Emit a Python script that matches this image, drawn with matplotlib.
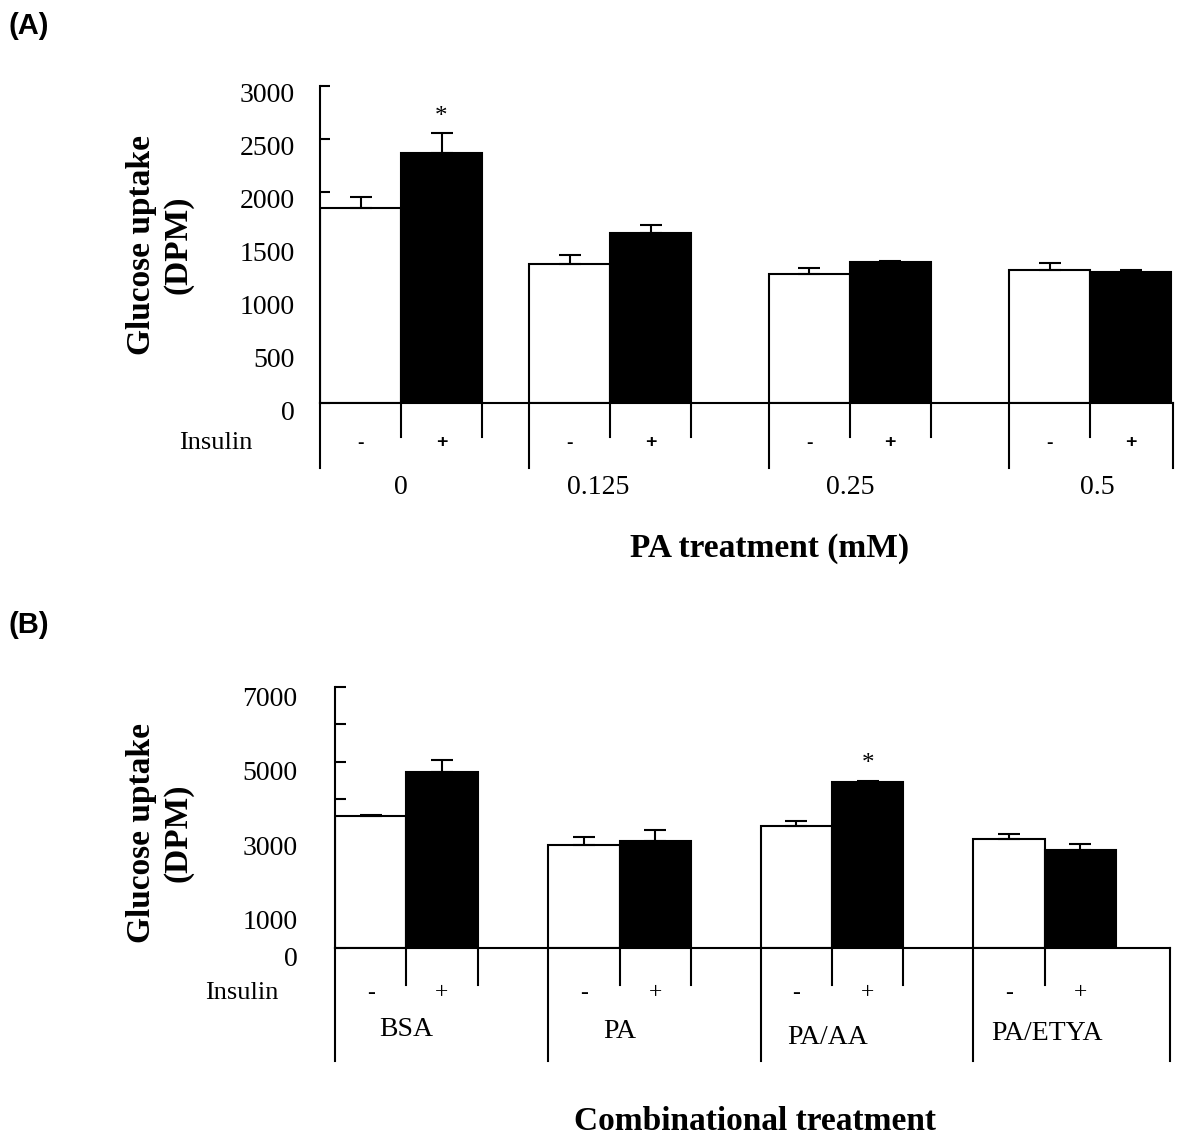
import matplotlib
matplotlib.use('Agg')
import matplotlib.pyplot as plt
import matplotlib.transforms as mtransforms

plt.rcParams['font.family'] = 'Liberation Serif'

# (A) glucose uptake vs PA dose, without / with insulin
pa_doses = ['0', '0.125', '0.25', '0.5']
a_no_ins = [1843, 1314, 1224, 1256]
a_no_ins_err = [110, 85, 50, 72]
a_ins = [2363, 1606, 1331, 1243]
a_ins_err = [190, 82, 16, 13]

# (B) combinational treatment
combos = ['BSA', 'PA', 'PA/AA', 'PA/ETYA']
b_no_ins = [3531, 2753, 3272, 2914]
b_no_ins_err = [45, 233, 134, 152]
b_ins = [4711, 2870, 4443, 2628]
b_ins_err = [331, 286, 45, 152]

W, H = 1200, 1142
fig = plt.figure(figsize=(12, 11.42), dpi=100)


def fy(py):
    # pixel row -> figure fraction
    return 1 - py / H


def px_axes(left, top, right, bottom):
    return fig.add_axes([left / W, 1 - bottom / H, (right - left) / W, (bottom - top) / H])


def draw_panel(ax, lefts, xright, no_ins, no_err, ins, ins_err, names, stars,
               y_long, y_short, y_pm, y_name, pm_style, name_dx, name_dy):
    lw = 1.5
    for i, x0 in enumerate(lefts):
        ax.bar(x0 + 0.5, no_ins[i], width=1, color='white', edgecolor='black', lw=lw, zorder=2)
        ax.bar(x0 + 1.5, ins[i], width=1, color='black', edgecolor='black', lw=lw, zorder=2)
        ax.errorbar([x0 + 0.5, x0 + 1.5], [no_ins[i], ins[i]],
                    yerr=[[0, 0], [no_err[i], ins_err[i]]], fmt='none', ecolor='black',
                    elinewidth=lw, capsize=8, capthick=lw, zorder=3)
    for i in stars:
        ax.annotate('*', (lefts[i] + 1.5, ins[i] + ins_err[i]), xytext=(0, 12),
                    textcoords='offset points', ha='center', va='center', fontsize=18)

    ax.set_xlim(0, xright)
    for s in ['top', 'right']:
        ax.spines[s].set_visible(False)
    for s in ['left', 'bottom']:
        ax.spines[s].set_linewidth(lw)
    ax.set_xticks([])

    # table below the zero line
    tr = mtransforms.blended_transform_factory(ax.transData, fig.transFigure)
    zero = ax.transData.transform((0, 0))[1] / fig.bbox.height
    for x in list(lefts) + [xright]:
        ax.plot([x, x], [zero, fy(y_long)], color='black', lw=lw, transform=tr, clip_on=False)
    for i, x0 in enumerate(lefts):
        shorts = [x0 + 1, x0 + 2] if i < len(lefts) - 1 else [x0 + 1]
        for x in shorts:
            ax.plot([x, x], [zero, fy(y_short)], color='black', lw=lw, transform=tr, clip_on=False)
        ax.text(x0 + 0.5, fy(y_pm), '-', transform=tr, ha='center', va='center', **pm_style)
        ax.text(x0 + 1.5, fy(y_pm), '+', transform=tr, ha='center', va='center', **pm_style)
        ax.text(x0 + 1 + name_dx[i], fy(y_name + name_dy[i]), names[i], transform=tr,
                ha='center', va='center', fontsize=20)


def shift_ticklabels(ax, dy_px):
    off = mtransforms.ScaledTranslation(0, -dy_px / 100, fig.dpi_scale_trans)
    for lab in ax.get_yticklabels():
        lab.set_transform(lab.get_transform() + off)


# ---------- panel A ----------
axA = px_axes(320, 86, 1173, 403)
draw_panel(axA, [0, 2.58, 5.54, 8.51], 10.53, a_no_ins, a_no_ins_err, a_ins, a_ins_err,
           pa_doses, [0], y_long=468, y_short=437, y_pm=443, y_name=488,
           pm_style=dict(fontsize=14, fontweight='bold', family='Liberation Sans'),
           name_dx=[0, -0.15, 0, 0.09], name_dy=[0, 0, 0, 0])
axA.set_ylim(0, 3000)
axA.set_yticks(range(0, 3001, 500))
axA.tick_params(axis='y', direction='in', length=7, width=1.5, labelsize=20, pad=18)
shift_ticklabels(axA, 7)

# ---------- panel B ----------
axB = px_axes(335, 687, 1170, 948)
draw_panel(axB, [0, 2.99, 5.97, 8.95], 11.71, b_no_ins, b_no_ins_err, b_ins, b_ins_err,
           combos, [2], y_long=1061, y_short=985, y_pm=993, y_name=1030,
           pm_style=dict(fontsize=17),
           name_dx=[0, 0, -0.06, 0.03], name_dy=[0, 2, 8, 4])
axB.set_ylim(0, 7000)
axB.set_yticks(range(0, 7001, 1000))
axB.set_yticklabels(['0', '1000', '', '3000', '', '5000', '', '7000'])
axB.tick_params(axis='y', direction='in', length=8, width=1.5, labelsize=20, pad=27)
shift_ticklabels(axB, 9)

# ---------- labels ----------
ylab = 'Glucose uptake\n(DPM)'
fig.text(160 / W, fy(245), ylab, rotation=90, ha='center', va='center', fontsize=24,
         fontweight='bold', multialignment='center')
fig.text(160 / W, fy(833), ylab, rotation=90, ha='center', va='center', fontsize=24,
         fontweight='bold', multialignment='center')
fig.text(216 / W, fy(443), 'Insulin', ha='center', va='center', fontsize=19)
fig.text(242 / W, fy(993), 'Insulin', ha='center', va='center', fontsize=19)
fig.text(770 / W, fy(548), 'PA treatment (mM)', ha='center', va='center', fontsize=24,
         fontweight='bold')
fig.text(755 / W, fy(1122), 'Combinational treatment', ha='center', va='center', fontsize=24,
         fontweight='bold')
fig.text(8 / W, fy(26), '(A)', ha='left', va='center', fontsize=21, fontweight='bold',
         family='Liberation Sans')
fig.text(8 / W, fy(625), '(B)', ha='left', va='center', fontsize=21, fontweight='bold',
         family='Liberation Sans')

fig.savefig('out.png', dpi=100, facecolor='white')
